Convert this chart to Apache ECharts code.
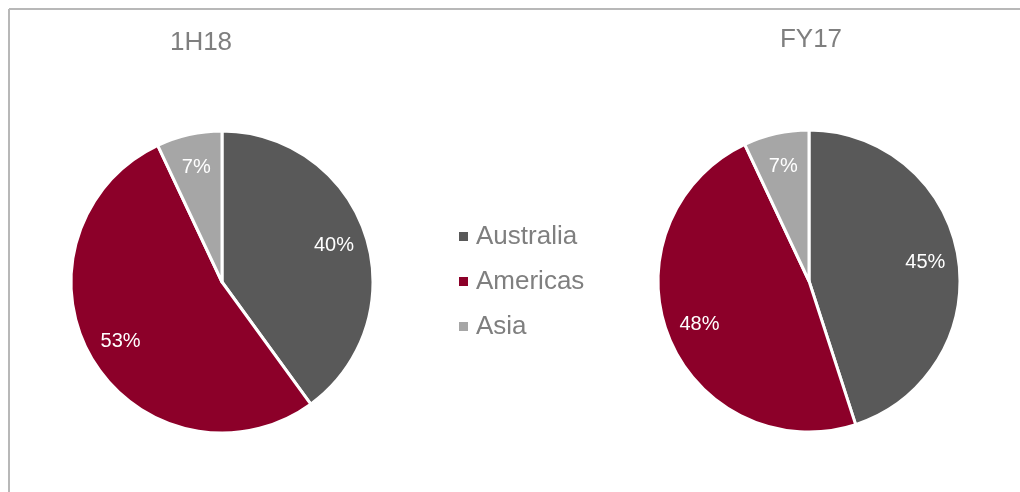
<!DOCTYPE html>
<html>
<head>
<meta charset="utf-8">
<script src="https://cdn.jsdelivr.net/npm/echarts@6/dist/echarts.min.js"></script>
<style>
  html, body { margin: 0; padding: 0; background: #fff; }
  #chart { width: 1020px; height: 492px; }
</style>
</head>
<body>
<div id="chart"></div>
<script>
// Revenue split by region
const regions = ['Australia', 'Americas', 'Asia'];
const periods = ['1H18', 'FY17'];
const share1H18 = [40, 53, 7];
const shareFY17 = [45, 48, 7];
const regionColors = ['#595959', '#8c0029', '#a6a6a6'];

const FONT = '"Liberation Sans", Arial, sans-serif';
const centers = [[222, 282], [809, 281]];
const R = 151;

function toData(values) {
  return regions.map((name, i) => ({ name, value: values[i] }));
}

function pieSeries(values, center) {
  return [
    {
      type: 'pie',
      center,
      radius: [0, R],
      startAngle: 90,
      clockwise: true,
      data: toData(values),
      itemStyle: { borderColor: '#fff', borderWidth: 3 },
      label: { show: false },
      labelLine: { show: false },
      emphasis: { disabled: true },
      silent: true
    },
    // transparent ring carrying the percentage labels further out
    {
      type: 'pie',
      center,
      radius: [R * 0.52, R],
      startAngle: 90,
      clockwise: true,
      data: toData(values),
      itemStyle: { color: 'rgba(0,0,0,0)' },
      label: {
        show: true,
        position: 'inside',
        formatter: '{c}%',
        color: '#ffffff',
        fontFamily: FONT,
        fontSize: 20
      },
      labelLine: { show: false },
      emphasis: { disabled: true },
      silent: true,
      legendHoverLink: false
    }
  ];
}

const chart = echarts.init(document.getElementById('chart'), null, { renderer: 'canvas' });

chart.setOption({
  animation: false,
  color: regionColors,
  title: [
    {
      text: periods[0], left: 196, top: 38, textAlign: 'center', textVerticalAlign: 'middle',
      textStyle: { fontFamily: FONT, fontSize: 26, fontWeight: 'normal', color: '#7f7f7f' }
    },
    {
      text: periods[1], left: 806, top: 35, textAlign: 'center', textVerticalAlign: 'middle',
      textStyle: { fontFamily: FONT, fontSize: 26, fontWeight: 'normal', color: '#7f7f7f' }
    }
  ],
  legend: {
    data: regions,
    orient: 'vertical',
    left: 452,
    top: 218,
    itemWidth: 11,
    itemHeight: 11,
    itemGap: 18,
    icon: 'rect',
    selectedMode: false,
    textStyle: { fontFamily: FONT, fontSize: 26, color: '#7f7f7f', lineHeight: 27, padding: [0, 0, 0, 2] }
  },
  graphic: [
    { type: 'line', shape: { x1: 9, y1: 9, x2: 1020, y2: 9 }, style: { stroke: '#b8b8b8', lineWidth: 2 }, silent: true },
    { type: 'line', shape: { x1: 9, y1: 9, x2: 9, y2: 492 }, style: { stroke: '#b8b8b8', lineWidth: 2 }, silent: true }
  ],
  series: [
    ...pieSeries(share1H18, centers[0]),
    ...pieSeries(shareFY17, centers[1])
  ]
});
</script>
</body>
</html>
